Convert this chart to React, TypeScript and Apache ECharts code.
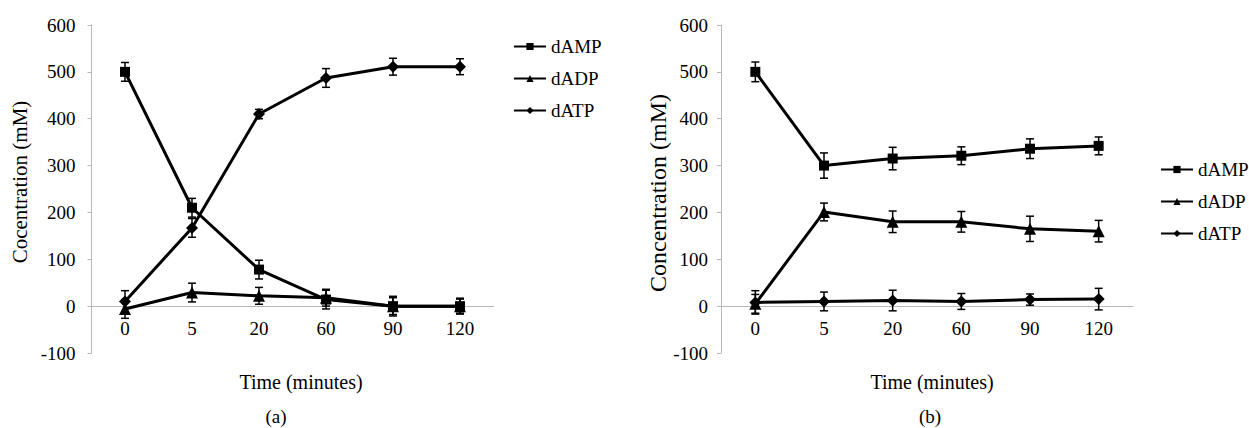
import React, { useEffect, useRef } from "react";
import * as echarts from "echarts";

const categories = ["0", "5", "20", "60", "90", "120"];
const seriesNames = ["dAMP", "dADP", "dATP"];

// Panel (a)
const aAMP = [500, 210, 78, 14, 0, 0];
const aAMPErr = [20, 20, 20, 20, 21, 17];
const aADP = [-6, 29, 22, 18, 0, 0];
const aADPErr = [20, 20, 18, 18, 18, 15];
const aATP = [10, 167, 410, 487, 511, 511];
const aATPErr = [23, 20, 10, 20, 18, 17];

// Panel (b)
const bAMP = [500, 300, 315, 321, 336, 342];
const bAMPErr = [21, 27, 24, 19, 21, 19];
const bADP = [5, 201, 180, 180, 165, 160];
const bADPErr = [20, 19, 23, 22, 27, 23];
const bATP = [8, 10, 12, 10, 14, 15];
const bATPErr = [25, 20, 22, 17, 12, 23];

const yTicks = { min: -100, max: 600, interval: 100 };

const FONT = "'Liberation Serif', 'Times New Roman', serif";
const AXIS_GRAY = "#b8b8b8";
const GRID_TOP = 25;
const GRID_H = 328;
// x axis sits at value 0
const X_OFFSET = -(GRID_H * (0 - yTicks.min)) / (yTicks.max - yTicks.min);

const symbols = ["rect", "triangle", "diamond"];
const symbolSizes = [10, 12, 12];

function errData(vals: number[], errs: number[]) {
  return vals.map((v, i) => [i, v - errs[i], v + errs[i]]);
}

function errorSeries(vals: number[], errs: number[], gi: number) {
  return {
    type: "custom",
    xAxisIndex: gi,
    yAxisIndex: gi,
    silent: true,
    z: 3,
    data: errData(vals, errs),
    encode: { x: 0, y: [1, 2] },
    renderItem: (params: any, api: any) => {
      const x = api.value(0);
      const lo = api.coord([x, api.value(1)]);
      const hi = api.coord([x, api.value(2)]);
      const hw = 4;
      const st = { stroke: "#000", lineWidth: 1.5 };
      return {
        type: "group",
        children: [
          { type: "line", shape: { x1: lo[0], y1: lo[1], x2: hi[0], y2: hi[1] }, style: st },
          { type: "line", shape: { x1: lo[0] - hw, y1: lo[1], x2: lo[0] + hw, y2: lo[1] }, style: st },
          { type: "line", shape: { x1: hi[0] - hw, y1: hi[1], x2: hi[0] + hw, y2: hi[1] }, style: st },
        ],
      };
    },
  };
}

function lineSeries(name: string, vals: number[], idx: number, gi: number) {
  return {
    name,
    type: "line",
    xAxisIndex: gi,
    yAxisIndex: gi,
    data: vals,
    symbol: symbols[idx],
    symbolSize: symbolSizes[idx],
    showSymbol: true,
    z: 4,
    lineStyle: { color: "#000", width: 3 },
    itemStyle: { color: "#000" },
  };
}

export default function App() {
  const ref = useRef<HTMLDivElement>(null);
  useEffect(() => {
    if (!ref.current) return;
    const chart = echarts.init(ref.current, null, { renderer: "svg" });
    const xAxisBase = {
      type: "category",
      data: categories,
      boundaryGap: true,
      offset: X_OFFSET,
      axisLine: { onZero: false, lineStyle: { color: AXIS_GRAY, width: 1 } },
      axisTick: { show: false },
      axisLabel: { color: "#000", fontSize: 19, fontFamily: FONT, margin: 13 },
      splitLine: { show: false },
    };
    const yAxisBase = {
      type: "value",
      min: yTicks.min,
      max: yTicks.max,
      interval: yTicks.interval,
      axisLine: { show: true, lineStyle: { color: AXIS_GRAY, width: 1 } },
      axisTick: { show: true, length: 4, lineStyle: { color: AXIS_GRAY } },
      axisLabel: { color: "#000", fontSize: 19, fontFamily: FONT, margin: 16 },
      splitLine: { show: false },
    };
    const legendBase = {
      orient: "vertical",
      data: seriesNames,
      itemWidth: 32,
      itemHeight: 9,
      itemGap: 13,
      selectedMode: false,
      textStyle: { color: "#000", fontSize: 19, fontFamily: FONT },
    };
    const titleStyle = { fontFamily: FONT, fill: "#000", align: "center", verticalAlign: "middle" };
    chart.setOption({
      animation: false,
      backgroundColor: "#fff",
      grid: [
        { left: 91.5, top: GRID_TOP, width: 402, height: GRID_H },
        { left: 721, top: GRID_TOP, width: 412, height: GRID_H },
      ],
      xAxis: [
        { ...xAxisBase, gridIndex: 0 },
        { ...xAxisBase, gridIndex: 1 },
      ],
      yAxis: [
        { ...yAxisBase, gridIndex: 0 },
        { ...yAxisBase, gridIndex: 1, axisLabel: { ...yAxisBase.axisLabel, margin: 13 } },
      ],
      legend: [
        { ...legendBase, left: 508, top: 32 },
        { ...legendBase, left: 1155, top: 155 },
      ],
      graphic: [
        { type: "text", x: 20, y: 182, rotation: Math.PI / 2, style: { ...titleStyle, fontSize: 21, text: "Cocentration (mM)" } },
        { type: "text", x: 658, y: 193, rotation: Math.PI / 2, style: { ...titleStyle, fontSize: 24, text: "Concentration (mM)" } },
        { type: "text", x: 301, y: 382, style: { ...titleStyle, fontSize: 20, text: "Time (minutes)" } },
        { type: "text", x: 276, y: 416, style: { ...titleStyle, fontSize: 19, text: "(a)" } },
        { type: "text", x: 932, y: 382, style: { ...titleStyle, fontSize: 20, text: "Time (minutes)" } },
        { type: "text", x: 930, y: 416, style: { ...titleStyle, fontSize: 19, text: "(b)" } },
      ],
      series: [
        errorSeries(aAMP, aAMPErr, 0),
        errorSeries(aADP, aADPErr, 0),
        errorSeries(aATP, aATPErr, 0),
        lineSeries("dAMP", aAMP, 0, 0),
        lineSeries("dADP", aADP, 1, 0),
        lineSeries("dATP", aATP, 2, 0),
        errorSeries(bAMP, bAMPErr, 1),
        errorSeries(bADP, bADPErr, 1),
        errorSeries(bATP, bATPErr, 1),
        lineSeries("dAMP", bAMP, 0, 1),
        lineSeries("dADP", bADP, 1, 1),
        lineSeries("dATP", bATP, 2, 1),
      ],
    });
    return () => chart.dispose();
  }, []);
  return (
    <div
      ref={ref}
      style={{ position: "absolute", left: 0, top: 0, width: 1249, height: 428 }}
    />
  );
}
